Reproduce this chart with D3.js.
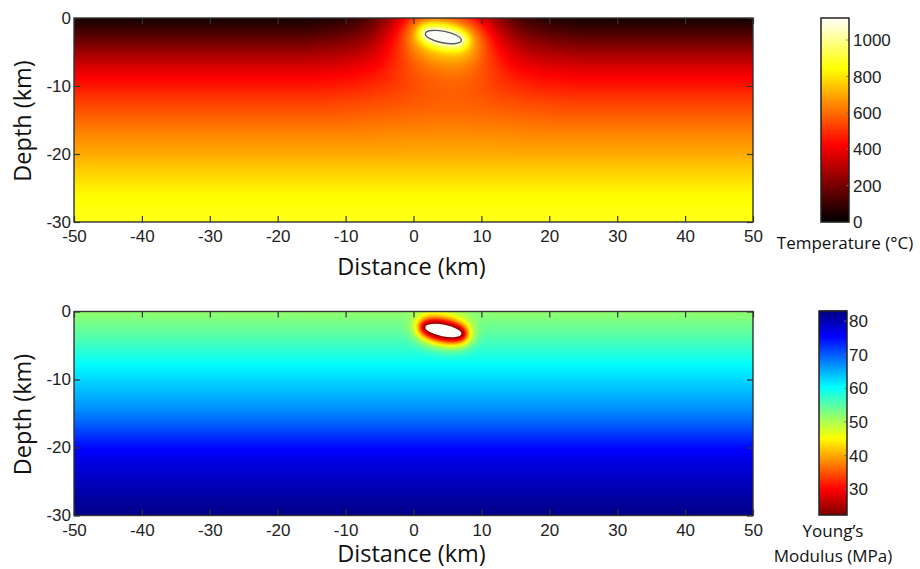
<!DOCTYPE html>
<html>
<head>
<meta charset="utf-8">
<script src="https://cdn.jsdelivr.net/npm/d3@7"></script>
<style>
  body { margin: 0; background: #fff; }
  text { font-family: "Liberation Sans", Arial, Helvetica, sans-serif; fill: #222; }
  .title { font-family: "Open Sans", "Noto Sans", sans-serif; fill: #111; }
</style>
</head>
<body>
<svg id="chart" width="920" height="569"></svg>
<script>
// axis ticks
const distanceTicks = [-50, -40, -30, -20, -10, 0, 10, 20, 30, 40, 50];
const depthTicks = [0, -10, -20, -30];

// background profiles read down the left edge of each panel (depth in km)
const profileDepth = [0, -2, -4, -6, -8, -10, -12, -14, -16, -18, -20, -22, -24, -26, -28, -30];
const temperatureProfile = [30, 115, 210, 305, 390, 455, 515, 565, 615, 660, 700, 750, 795, 835, 855, 865];
const modulusProfile = [51.5, 53.5, 55.5, 58, 60.5, 62.5, 64.5, 66.5, 69, 72, 75, 77, 78.5, 80, 81.5, 82.5];

// magma chamber (km) and its halo, by distance from the chamber wall (km)
const chamber = { x: 4.4, depth: -2.8, a: 2.7, b: 0.85, tilt: 11 };
const glowDistance = [0, 0.5, 1, 1.5, 2, 3, 4, 5, 6, 8, 10, 13, 18];
const temperatureGlow = [1, 0.83, 0.7, 0.6, 0.52, 0.42, 0.33, 0.26, 0.2, 0.11, 0.06, 0.025, 0];
const softDistance = [0, 0.3, 0.6, 1, 1.5, 2, 2.7, 3.5];
const modulusSoftening = [1, 0.85, 0.7, 0.45, 0.25, 0.12, 0.04, 0];

// colour bars
const temperatureDomain = [0, 1121];
const temperatureTicks = [0, 200, 400, 600, 800, 1000];
const modulusDomain = [22.3, 83];
const modulusTicks = [30, 40, 50, 60, 70, 80];

const svg = d3.select("#chart");
const plotLeft = 74, plotRight = 753, plotH = 204;
const x = d3.scaleLinear().domain([-50, 50]).range([plotLeft, plotRight]);

// hot colormap
const tSpan = temperatureDomain[1] - temperatureDomain[0];
const hot = d3.scaleLinear()
  .domain([0, 0.375, 0.75, 1].map(t => temperatureDomain[0] + t * tSpan))
  .range(["#000000", "#ff0000", "#ffff00", "#ffffff"]).clamp(true);

// jet colormap, reversed (low = dark red)
const mSpan = modulusDomain[1] - modulusDomain[0];
const jetR = d3.scaleLinear()
  .domain([0, 0.125, 0.375, 0.625, 0.875, 1].map(t => modulusDomain[1] - t * mSpan))
  .range(["#000080", "#0000ff", "#00ffff", "#ffff00", "#ff0000", "#800000"]).clamp(true);

const bgTemp = d3.scaleLinear().domain(profileDepth).range(temperatureProfile).clamp(true);
const bgMod = d3.scaleLinear().domain(profileDepth).range(modulusProfile).clamp(true);
const glow = d3.scaleLinear().domain(glowDistance).range(temperatureGlow).clamp(true);
const soften = d3.scaleLinear().domain(softDistance).range(modulusSoftening).clamp(true);

// chamber wall in km coordinates (depth up-positive frame, right end deeper)
const th = -chamber.tilt * Math.PI / 180;
const wall = d3.range(0, 2 * Math.PI, Math.PI / 48).map(s => {
  const u = chamber.a * Math.cos(s), v = chamber.b * Math.sin(s);
  return [chamber.x + u * Math.cos(th) - v * Math.sin(th), chamber.depth + u * Math.sin(th) + v * Math.cos(th)];
});

function wallDistance(px, pd) {
  const dx = px - chamber.x, dy = pd - chamber.depth;
  const u = dx * Math.cos(th) + dy * Math.sin(th);
  const v = -dx * Math.sin(th) + dy * Math.cos(th);
  if ((u / chamber.a) ** 2 + (v / chamber.b) ** 2 <= 1) return 0;
  let m = Infinity;
  for (const w of wall) {
    const e = (px - w[0]) ** 2 + (pd - w[1]) ** 2;
    if (e < m) m = e;
  }
  return Math.sqrt(m);
}

const fields = [
  {
    top: 18,
    value: (d, dw) => { const b = bgTemp(d); return b + (temperatureDomain[1] - b) * glow(dw); },
    color: hot,
    chamberStroke: "#5a5a5a",
    titleY: 275
  },
  {
    top: 311.5,
    value: (d, dw) => { const b = bgMod(d); return b - (b - modulusDomain[0]) * soften(dw); },
    color: jetR,
    chamberStroke: "none",
    titleY: 562
  }
];

const W = plotRight - plotLeft;

fields.forEach(f => {
  const y = d3.scaleLinear().domain([0, -30]).range([f.top, f.top + plotH]);
  const canvas = document.createElement("canvas");
  canvas.width = W;
  canvas.height = plotH;
  const ctx = canvas.getContext("2d");
  const img = ctx.createImageData(W, plotH);
  for (let r = 0; r < plotH; r++) {
    const d = y.invert(f.top + r + 0.5);
    for (let c = 0; c < W; c++) {
      const xk = x.invert(plotLeft + c + 0.5);
      const col = d3.rgb(f.color(f.value(d, wallDistance(xk, d))));
      const k = 4 * (r * W + c);
      img.data[k] = col.r; img.data[k + 1] = col.g; img.data[k + 2] = col.b; img.data[k + 3] = 255;
    }
  }
  ctx.putImageData(img, 0, 0);

  const g = svg.append("g");
  g.append("image")
    .attr("x", plotLeft).attr("y", f.top)
    .attr("width", W).attr("height", plotH)
    .attr("preserveAspectRatio", "none")
    .attr("href", canvas.toDataURL());

  // chamber outline
  const cx = x(chamber.x), cy = y(chamber.depth);
  g.append("ellipse")
    .attr("cx", cx).attr("cy", cy)
    .attr("rx", x(chamber.x + chamber.a) - cx)
    .attr("ry", y(chamber.depth - chamber.b) - cy)
    .attr("transform", `rotate(${chamber.tilt},${cx},${cy})`)
    .attr("fill", "#fffffa")
    .attr("stroke", f.chamberStroke).attr("stroke-width", 1.4);

  // axes with inward ticks on all sides
  const fmt = d => d.toString();
  g.append("g").attr("transform", `translate(0,${f.top + plotH})`)
    .call(d3.axisBottom(x).tickValues(distanceTicks).tickFormat(fmt).tickSizeInner(-6).tickSizeOuter(0).tickPadding(8));
  g.append("g").attr("transform", `translate(0,${f.top})`)
    .call(d3.axisTop(x).tickValues(distanceTicks).tickFormat("").tickSizeInner(-6).tickSizeOuter(0));
  g.append("g").attr("transform", `translate(${plotLeft},0)`)
    .call(d3.axisLeft(y).tickValues(depthTicks).tickFormat(fmt).tickSizeInner(-6).tickSizeOuter(0).tickPadding(3));
  g.append("g").attr("transform", `translate(${plotRight},0)`)
    .call(d3.axisRight(y).tickValues(depthTicks).tickFormat("").tickSizeInner(-6).tickSizeOuter(0));
  g.selectAll(".domain").remove();
  g.selectAll(".tick line").attr("stroke", "#333").attr("stroke-width", 1.2);
  g.selectAll(".tick text").attr("font-size", 17).attr("fill", "#222")
    .attr("font-family", "'Liberation Sans', Arial, sans-serif");
  g.append("rect")
    .attr("x", plotLeft).attr("y", f.top)
    .attr("width", W).attr("height", plotH)
    .attr("fill", "none").attr("stroke", "#333").attr("stroke-width", 1.4);

  g.append("text").attr("class", "title")
    .attr("x", 411.5).attr("y", f.titleY)
    .attr("text-anchor", "middle").attr("font-size", 23.5)
    .text("Distance (km)");
  g.append("text").attr("class", "title")
    .attr("transform", `translate(31,${f.top + 103}) rotate(-90)`)
    .attr("text-anchor", "middle").attr("font-size", 23.5)
    .text("Depth (km)");
});

function colorbar(x0, w, top, bottom, domain, color, ticks, labelX, lines) {
  const cy = d3.scaleLinear().domain(domain).range([bottom, top]);
  const g = svg.append("g");
  const vals = d3.range(domain[0], domain[1], (domain[1] - domain[0]) / (bottom - top));
  g.selectAll("rect.c").data(vals).join("rect").attr("class", "c")
    .attr("x", x0).attr("width", w)
    .attr("y", v => cy(v) - 1.5).attr("height", 1.6)
    .attr("fill", v => color(v));
  g.selectAll("line.t").data(ticks).join("line").attr("class", "t")
    .attr("x1", x0 + w - 3).attr("x2", x0 + w)
    .attr("y1", v => cy(v)).attr("y2", v => cy(v))
    .attr("stroke", "#777").attr("stroke-width", 0.8);
  g.append("rect").attr("x", x0).attr("y", top).attr("width", w).attr("height", bottom - top)
    .attr("fill", "none").attr("stroke", "#222").attr("stroke-width", 1.5);
  g.selectAll("text.l").data(ticks).join("text").attr("class", "l")
    .attr("x", labelX).attr("y", v => cy(v)).attr("dy", "0.36em")
    .attr("font-size", 17).text(v => v);
  lines.forEach(l => {
    g.append("text").attr("class", "title")
      .attr("x", l[0]).attr("y", l[1]).attr("text-anchor", "middle")
      .attr("font-size", 17).text(l[2]);
  });
}

colorbar(821, 28, 18, 222, temperatureDomain, hot, temperatureTicks, 853,
  [[845, 249, "Temperature (\u00B0C)"]]);
colorbar(819, 28, 311, 515, modulusDomain, jetR, modulusTicks, 849,
  [[833, 537, "Young\u2019s"], [833, 562, "Modulus (MPa)"]]);
</script>
</body>
</html>
